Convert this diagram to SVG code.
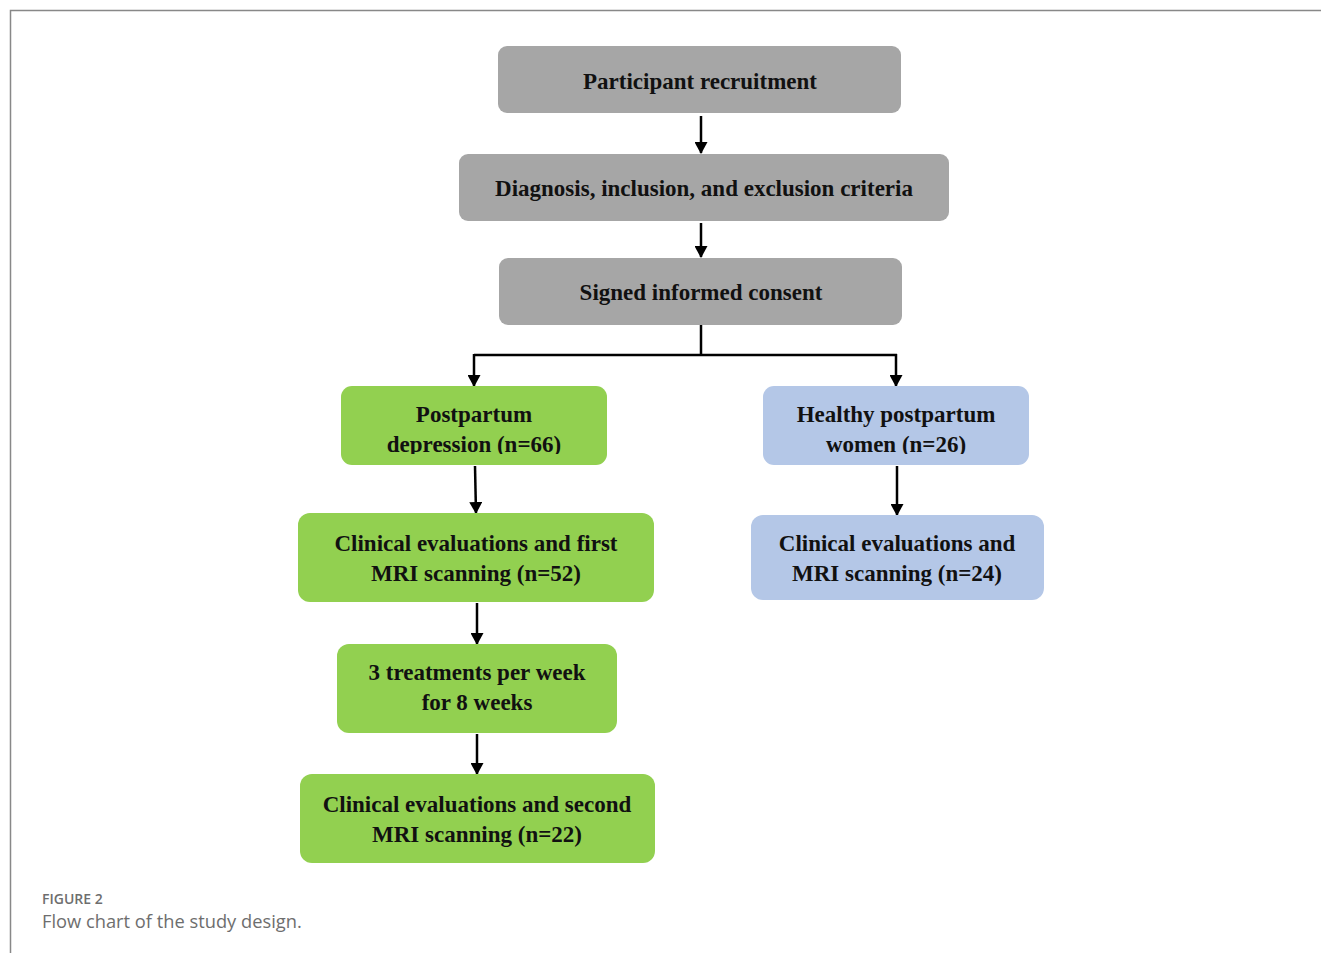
<svg xmlns="http://www.w3.org/2000/svg" width="1322" height="953" viewBox="0 0 1322 953">
<defs>
<style>
.g{fill:#a6a6a6}
.gr{fill:#92d050}
.bl{fill:#b4c7e7}
.t{font-family:"Liberation Serif","Times New Roman",serif;font-weight:bold;font-size:23px;fill:#111;text-anchor:middle}
.c{stroke:#000;stroke-width:2.5;fill:none}
</style>
<marker id="ah" markerWidth="13" markerHeight="13" refX="11" refY="6.5" orient="auto" markerUnits="userSpaceOnUse">
<path d="M0,0 L12,6.5 L0,13 Z" fill="#000"/>
</marker>
<clipPath id="clipL"><rect x="341" y="386" width="266" height="68"/></clipPath>
<clipPath id="clipR"><rect x="763" y="386" width="266" height="68"/></clipPath>
</defs>
<rect width="1322" height="953" fill="#fff"/>
<path d="M10.5,953 V10.5 H1321" fill="none" stroke="#888" stroke-width="1.5"/>

<g id="connectors">
<line class="c" x1="701" y1="116" x2="701" y2="153" marker-end="url(#ah)"/>
<line class="c" x1="701" y1="223" x2="701" y2="257" marker-end="url(#ah)"/>
<path class="c" d="M701,325 V355"/>
<path class="c" d="M474,355 H897"/>
<line class="c" x1="474" y1="354" x2="474" y2="386" marker-end="url(#ah)"/>
<line class="c" x1="896" y1="354" x2="896" y2="386" marker-end="url(#ah)"/>
<line class="c" x1="475" y1="466" x2="476" y2="513" marker-end="url(#ah)"/>
<line class="c" x1="897" y1="466" x2="897" y2="515" marker-end="url(#ah)"/>
<line class="c" x1="477" y1="603" x2="477" y2="644" marker-end="url(#ah)"/>
<line class="c" x1="477" y1="734" x2="477" y2="774" marker-end="url(#ah)"/>
</g>

<g id="n1">
<rect class="g" x="498" y="46" width="403" height="67" rx="9"/>
<text class="t" x="700" y="89">Participant recruitment</text>
</g>
<g id="n2">
<rect class="g" x="459" y="154" width="490" height="67" rx="9"/>
<text class="t" x="704" y="196">Diagnosis, inclusion, and exclusion criteria</text>
</g>
<g id="n3">
<rect class="g" x="499" y="258" width="403" height="67" rx="9"/>
<text class="t" x="701" y="300">Signed informed consent</text>
</g>
<g id="n4">
<rect class="gr" x="341" y="386" width="266" height="79" rx="11"/>
<g clip-path="url(#clipL)">
<text class="t" x="474" y="422">Postpartum</text>
<text class="t" x="474" y="452">depression (n=66)</text>
</g>
</g>
<g id="n5">
<rect class="bl" x="763" y="386" width="266" height="79" rx="11"/>
<g clip-path="url(#clipR)">
<text class="t" x="896" y="422">Healthy postpartum</text>
<text class="t" x="896" y="452">women (n=26)</text>
</g>
</g>
<g id="n6">
<rect class="gr" x="298" y="513" width="356" height="89" rx="12"/>
<text class="t" x="476" y="551">Clinical evaluations and first</text>
<text class="t" x="476" y="581">MRI scanning (n=52)</text>
</g>
<g id="n7">
<rect class="bl" x="751" y="515" width="293" height="85" rx="12"/>
<text class="t" x="897" y="551">Clinical evaluations and</text>
<text class="t" x="897" y="581">MRI scanning (n=24)</text>
</g>
<g id="n8">
<rect class="gr" x="337" y="644" width="280" height="89" rx="12"/>
<text class="t" x="477" y="680">3 treatments per week</text>
<text class="t" x="477" y="710">for 8 weeks</text>
</g>
<g id="n9">
<rect class="gr" x="300" y="774" width="355" height="89" rx="12"/>
<text class="t" x="477" y="812">Clinical evaluations and second</text>
<text class="t" x="477" y="842">MRI scanning (n=22)</text>
</g>

<text x="42" y="904" font-family="'Open Sans',Lato,sans-serif" font-size="14" font-weight="600" fill="#6e6e6e">FIGURE 2</text>
<text x="42" y="928" font-family="'Open Sans',Lato,sans-serif" font-size="18.3" fill="#6e6e6e">Flow chart of the study design.</text>
</svg>
